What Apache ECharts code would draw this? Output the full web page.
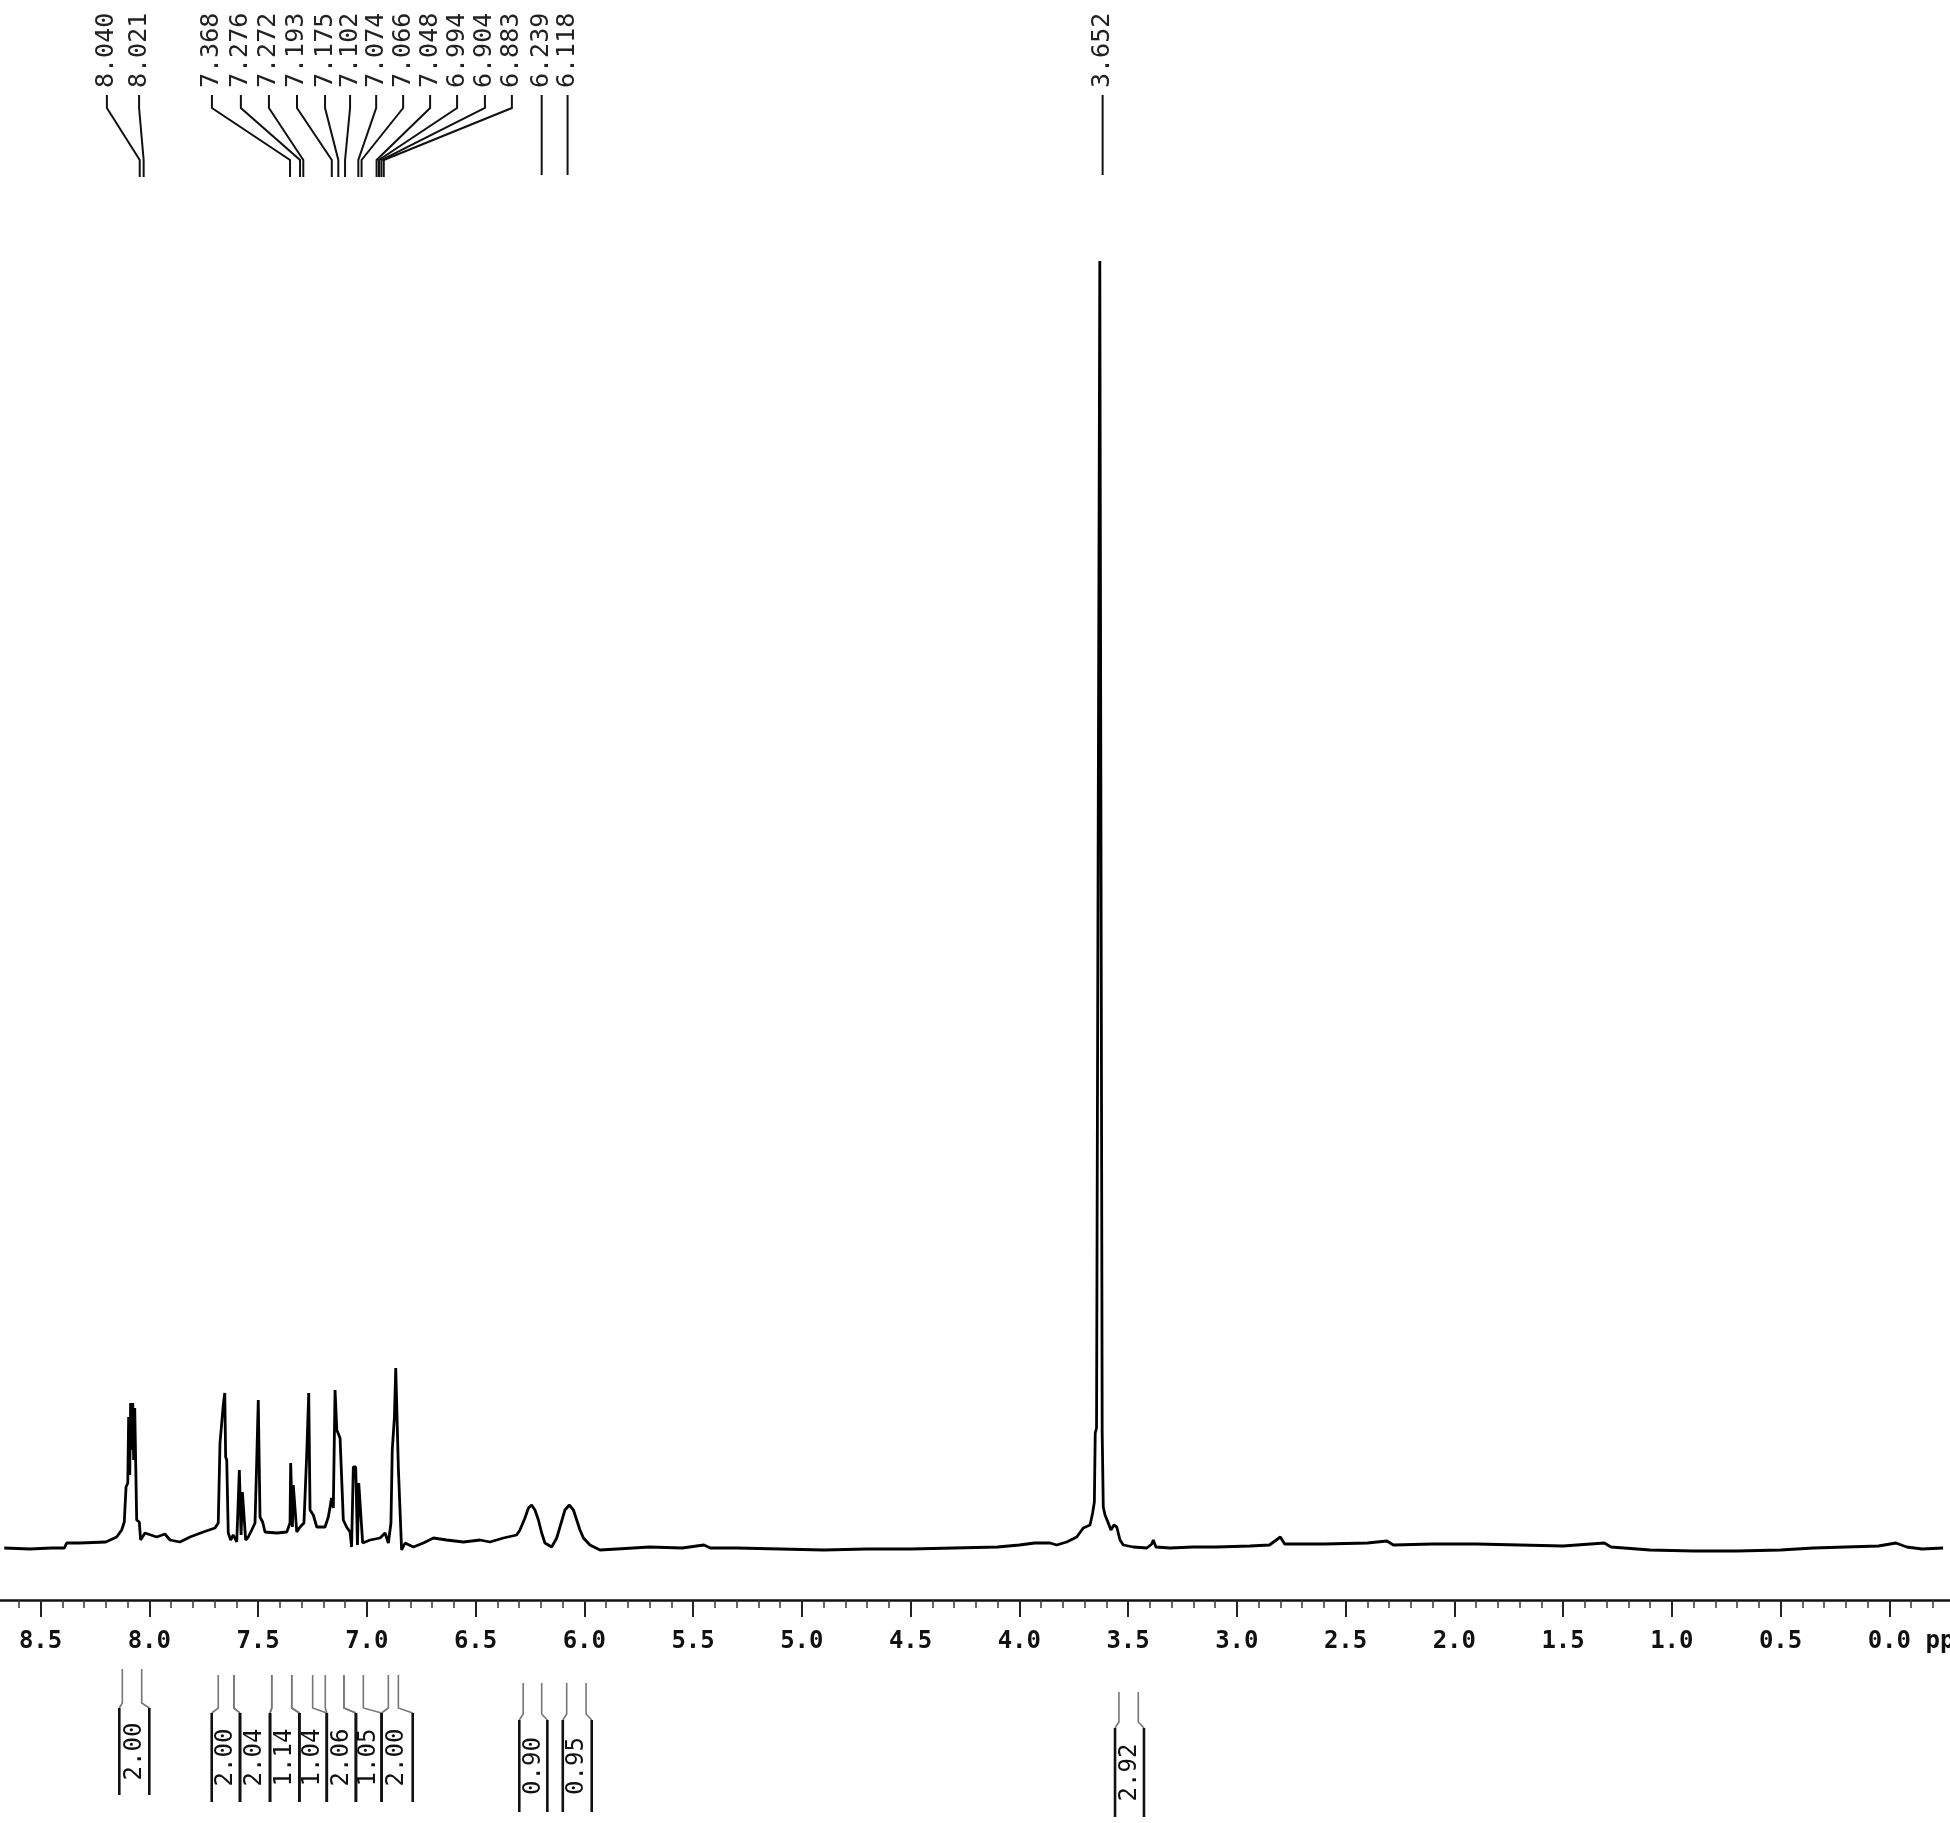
<!DOCTYPE html>
<html>
<head>
<meta charset="utf-8">
<title>1H NMR spectrum</title>
<script src="https://cdn.jsdelivr.net/npm/echarts@6/dist/echarts.min.js"></script>
<style>
  html, body { margin: 0; padding: 0; background: #fff; }
  #chart { width: 1950px; height: 1823px; }
</style>
</head>
<body>
<div id="chart"></div>
<script>
// spectrum trace: chemical shift (ppm) and intensity
const shiftPpm = [
  8.667, 8.55, 8.45, 8.39, 8.38, 8.32, 8.20, 8.15, 8.127, 8.115, 8.107, 8.099, 8.095, 8.090, 8.086,
  8.081, 8.076, 8.072, 8.067, 8.063, 8.058, 8.046, 8.040, 8.020, 7.966, 7.928, 7.905, 7.859, 7.813,
  7.752, 7.698, 7.683, 7.675, 7.667, 7.660, 7.653, 7.649, 7.644, 7.637, 7.626, 7.614, 7.598, 7.586,
  7.578, 7.572, 7.565, 7.557, 7.545, 7.529, 7.514, 7.506, 7.499, 7.491, 7.479, 7.468, 7.414, 7.368,
  7.353, 7.350, 7.342, 7.338, 7.330, 7.322, 7.307, 7.289, 7.276, 7.267, 7.261, 7.246, 7.230, 7.192,
  7.177, 7.169, 7.162, 7.154, 7.146, 7.138, 7.131, 7.123, 7.116, 7.108, 7.093, 7.077, 7.070, 7.062,
  7.051, 7.043, 7.037, 7.028, 7.019, 6.985, 6.939, 6.916, 6.901, 6.889, 6.883, 6.873, 6.867, 6.861,
  6.855, 6.847, 6.840, 6.824, 6.786, 6.740, 6.694, 6.633, 6.556, 6.479, 6.434, 6.372, 6.311, 6.296,
  6.273, 6.257, 6.242, 6.227, 6.211, 6.196, 6.181, 6.150, 6.127, 6.112, 6.089, 6.069, 6.050, 6.035,
  6.020, 6.004, 5.974, 5.928, 5.85, 5.70, 5.55, 5.45,
  5.42, 5.30, 5.10, 4.90, 4.70, 4.50, 4.30, 4.10, 4.00, 3.93, 3.859, 3.828, 3.782, 3.736, 3.706,
  3.675, 3.663, 3.655, 3.651, 3.645, 3.637, 3.630, 3.625, 3.619, 3.614, 3.606, 3.591, 3.579, 3.565,
  3.552, 3.537, 3.522, 3.476, 3.414, 3.391, 3.384, 3.372, 3.307, 3.200, 3.093, 2.939, 2.85, 2.80,
  2.78, 2.60, 2.40, 2.31, 2.28, 2.10, 1.90, 1.70, 1.50, 1.31, 1.28, 1.10, 0.90, 0.70, 0.50, 0.35,
  0.20, 0.05, -0.03, -0.08, -0.15, -0.247
];
const intensity = [
  5.2, 5.1, 5.2, 5.2, 5.7, 5.7, 5.8, 6.3, 7.0, 7.8, 11.3, 11.7, 18.3, 12.5, 19.7,
  15.0, 19.7, 14.0, 19.2, 19.0, 8.0, 7.8, 6.0, 6.7, 6.3, 6.6, 6.0, 5.8, 6.3,
  6.8, 7.2, 7.7, 15.7, 15.8, 19.5, 20.7, 14.3, 14.0, 6.7, 6.0, 6.5, 5.8, 13.0,
  6.5, 10.8, 10.7, 6.0, 6.3, 7.0, 7.7, 14.0, 20.0, 8.3, 7.8, 6.8, 6.7, 6.8,
  7.7, 13.7, 7.3, 11.5, 11.3, 6.8, 7.3, 7.7, 14.7, 20.7, 9.0, 8.5, 7.3, 7.3,
  8.3, 9.3, 10.2, 9.2, 21.0, 17.0, 17.2, 16.2, 16.0, 8.0, 7.3, 6.8, 5.3, 13.3,
  13.3, 5.5, 11.7, 11.7, 5.7, 6.0, 6.2, 6.7, 5.7, 7.7, 15.0, 18.3, 23.2, 18.3,
  13.2, 13.0, 5.0, 5.7, 5.3, 5.7, 6.2, 6.0, 5.8, 6.0, 5.8, 6.2, 6.5, 7.0,
  8.2, 9.2, 9.5, 9.0, 8.0, 6.7, 5.7, 5.3, 6.2, 7.3, 9.0, 9.5, 9.0, 8.0,
  7.0, 6.2, 5.5, 5.0, 5.1, 5.3, 5.2, 5.5,
  5.2, 5.2, 5.1, 5.0, 5.1, 5.1, 5.2, 5.3, 5.5, 5.7, 5.7, 5.5, 5.8, 6.3, 7.2,
  7.5, 8.7, 9.8, 16.7, 17.2, 80, 133.9, 80, 16.7, 9.3, 8.5, 7.7, 7.0, 7.5,
  7.3, 6.0, 5.5, 5.3, 5.2, 5.6, 6.0, 5.3, 5.2, 5.3, 5.3, 5.4, 5.5, 6.3,
  5.6, 5.6, 5.7, 5.9, 5.5, 5.6, 5.6, 5.5, 5.4, 5.7, 5.3, 5.0, 4.9, 4.9, 5.0, 5.2,
  5.3, 5.4, 5.7, 5.3, 5.1, 5.2
];

// peak pick labels: text, where the text sits, where its leader ends
const peakLabels = ['8.040', '8.021', '7.368', '7.276', '7.272', '7.193', '7.175', '7.102',
  '7.074', '7.066', '7.048', '6.994', '6.904', '6.883', '6.239', '6.118', '3.652'];
const peakTextPpm = [8.195, 8.047, 7.712, 7.579, 7.450, 7.321, 7.192, 7.077,
  6.957, 6.833, 6.709, 6.585, 6.457, 6.333, 6.195, 6.077, 3.617];
const peakAnchorPpm = [8.044, 8.026, 7.353, 7.307, 7.292, 7.161, 7.131, 7.100,
  7.039, 7.024, 6.955, 6.944, 6.933, 6.922, 6.196, 6.077, 3.617];

// integrals: value, integrated range, bracket range
const integralValues = ['2.00', '2.00', '2.04', '1.14', '1.04', '2.06', '1.05', '2.00', '0.90', '0.95', '2.92'];
const integralFrom = [8.124, 7.683, 7.611, 7.437, 7.345, 7.191, 7.105, 6.901, 6.281, 6.081, 3.542];
const integralTo = [8.035, 7.611, 7.437, 7.345, 7.249, 7.105, 7.016, 6.855, 6.196, 5.992, 3.453];
const bracketFrom = [8.138, 7.713, 7.583, 7.445, 7.310, 7.184, 7.050, 6.932, 6.299, 6.099, 3.560];
const bracketTo = [8.000, 7.583, 7.445, 7.310, 7.184, 7.050, 6.932, 6.789, 6.170, 5.966, 3.427];
const integralRow = [0, 1, 1, 1, 1, 1, 1, 1, 2, 2, 3];

// pixel rows for the integral marks: top of range line, bend, bracket top, bracket bottom
const rowY = [[1669, 1703, 1708, 1795], [1675, 1708, 1713, 1802], [1683, 1714, 1720, 1812], [1692, 1722, 1728, 1817]];

const chart = echarts.init(document.getElementById('chart'));

const option = {
  animation: false,
  backgroundColor: '#fff',
  grid: { left: -68.2, right: -48.1, top: 200, bottom: 223, outerBoundsMode: 'none' },
  xAxis: {
    type: 'value',
    inverse: true,
    min: -0.5,
    max: 9.0,
    interval: 0.5,
    axisLine: { lineStyle: { color: '#111', width: 2.5 } },
    axisTick: { length: 17, lineStyle: { color: '#222', width: 2 } },
    minorTick: { show: true, splitNumber: 5, length: 8, lineStyle: { color: '#333', width: 1.5 } },
    splitLine: { show: false },
    axisLabel: {
      margin: 30,
      color: '#111',
      fontFamily: 'DejaVu Sans Mono',
      fontWeight: 'bold',
      fontSize: 24,
      formatter: (v) => (Math.abs(v) < 1e-9 ? '    0.0 ppm' : v.toFixed(1)),
    },
  },
  yAxis: { type: 'value', min: 0, max: 140, show: false },
  series: [
    {
      name: 'spectrum',
      type: 'line',
      data: shiftPpm.map((p, i) => [p, intensity[i]]),
      showSymbol: false,
      lineStyle: { color: '#000', width: 2.8 },
      z: 3,
    },
    {
      name: 'peaks',
      type: 'custom',
      clip: false,
      data: peakTextPpm.map((p, i) => [p, peakAnchorPpm[i]]),
      encode: { x: 0 },
      renderItem: (params, api) => {
        const i = params.dataIndex;
        const tx = api.coord([peakTextPpm[i], 0])[0];
        const ax = api.coord([peakAnchorPpm[i], 0])[0];
        const pts = Math.abs(tx - ax) < 2
          ? [[ax, 95], [ax, 175]]
          : [[tx, 95], [tx, 108], [ax, 160], [ax, 177]];
        return {
          type: 'group',
          children: [
            { type: 'polyline', shape: { points: pts }, style: { stroke: '#111', lineWidth: 2, fill: null } },
            {
              type: 'text', x: tx, y: 88, rotation: Math.PI / 2,
              style: { text: peakLabels[i], font: '25px "DejaVu Sans Mono"', fill: '#222', align: 'left', verticalAlign: 'middle' },
            },
          ],
        };
      },
    },
    {
      name: 'integrals',
      type: 'custom',
      clip: false,
      data: integralFrom.map((p, i) => [p, integralTo[i]]),
      encode: { x: 0 },
      renderItem: (params, api) => {
        const i = params.dataIndex;
        const [y0, y1, y2, y3] = rowY[integralRow[i]];
        const px = (v) => api.coord([v, 0])[0];
        const a = px(integralFrom[i]), b = px(integralTo[i]);
        const ba = px(bracketFrom[i]), bb = px(bracketTo[i]);
        return {
          type: 'group',
          children: [
            { type: 'polyline', shape: { points: [[a, y0], [a, y1], [ba, y2]] }, style: { stroke: '#777', lineWidth: 1.6, fill: null } },
            { type: 'polyline', shape: { points: [[b, y0], [b, y1], [bb, y2]] }, style: { stroke: '#777', lineWidth: 1.6, fill: null } },
            { type: 'line', shape: { x1: ba, y1: y2, x2: ba, y2: y3 }, style: { stroke: '#111', lineWidth: 2.6 } },
            { type: 'line', shape: { x1: bb, y1: y2, x2: bb, y2: y3 }, style: { stroke: '#111', lineWidth: 2.6 } },
            {
              type: 'text', x: (ba + bb) / 2, y: (y2 + y3) / 2, rotation: Math.PI / 2,
              style: { text: integralValues[i], font: '24px "DejaVu Sans Mono"', fill: '#111', align: 'center', verticalAlign: 'middle' },
            },
          ],
        };
      },
    },
  ],
};

chart.setOption(option);
</script>
</body>
</html>
